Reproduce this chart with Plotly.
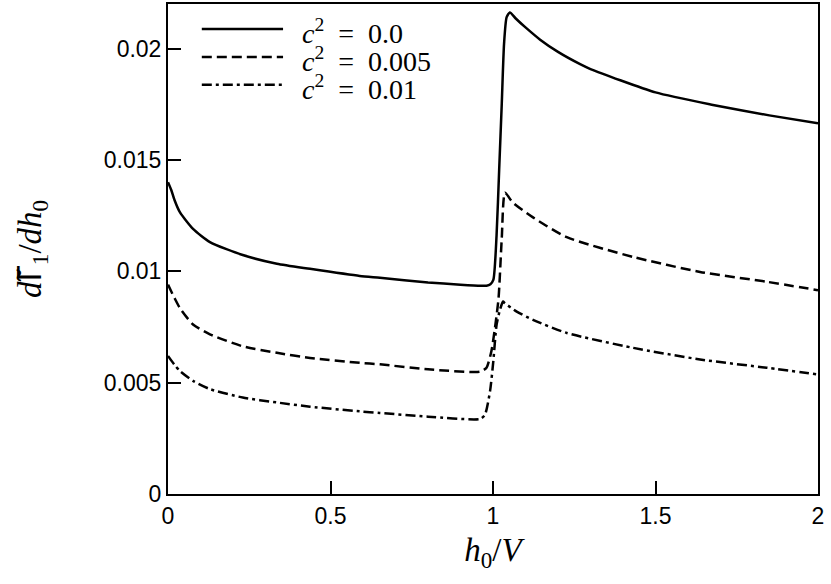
import plotly.graph_objects as go

# curve c^2 = 0.0
x_c0 = [0.0, 0.01, 0.02, 0.037, 0.077, 0.129, 0.23, 0.335, 0.437, 0.59, 0.652, 0.8, 0.9,
        0.963, 0.98, 0.992, 1.001, 1.011, 1.019, 1.027, 1.034, 1.042, 1.052, 1.07,
        1.1, 1.145, 1.2, 1.268, 1.3, 1.5, 1.677, 1.85, 2.0]
y_c0 = [0.0140, 0.01365, 0.0132, 0.01264, 0.0119, 0.01131, 0.01073, 0.01034, 0.01011,
        0.00979, 0.00971, 0.0095, 0.0094, 0.00935, 0.00935, 0.00942, 0.00961, 0.01162,
        0.01456, 0.01754, 0.02021, 0.02141, 0.02162, 0.02135, 0.02095, 0.0204, 0.01985,
        0.0193, 0.01908, 0.01803, 0.01747, 0.0170, 0.01664]

# curve c^2 = 0.005
x_c1 = [0.0, 0.02, 0.037, 0.077, 0.129, 0.23, 0.335, 0.437, 0.59, 0.652, 0.8, 0.96,
        0.98, 0.995, 1.006, 1.017, 1.027, 1.037, 1.06, 1.123, 1.227, 1.432, 1.637,
        1.842, 2.0]
y_c1 = [0.0094, 0.0088, 0.00834, 0.00761, 0.00717, 0.00663, 0.00634, 0.00611, 0.00589,
        0.00582, 0.0056, 0.00549, 0.00567, 0.00641, 0.00745, 0.00878, 0.0115, 0.01353,
        0.0131, 0.01242, 0.01153, 0.01064, 0.00997, 0.00953, 0.00915]

# curve c^2 = 0.01
x_c2 = [0.0, 0.02, 0.037, 0.077, 0.129, 0.23, 0.335, 0.437, 0.59, 0.652, 0.8, 0.96,
        0.975, 0.991, 1.001, 1.011, 1.022, 1.031, 1.037, 1.073, 1.123, 1.227, 1.432,
        1.637, 1.842, 2.0]
y_c2 = [0.0062, 0.0058, 0.00552, 0.00508, 0.00471, 0.00433, 0.00411, 0.00392, 0.00371,
        0.00364, 0.00347, 0.00337, 0.00355, 0.00463, 0.00597, 0.0076, 0.0083, 0.00864,
        0.00856, 0.00819, 0.00782, 0.00723, 0.00656, 0.00604, 0.00567, 0.00537]

names = ["<i>c</i><sup>2</sup>&nbsp;&nbsp;=&nbsp;&nbsp;0.0",
         "<i>c</i><sup>2</sup>&nbsp;&nbsp;=&nbsp;&nbsp;0.005",
         "<i>c</i><sup>2</sup>&nbsp;&nbsp;=&nbsp;&nbsp;0.01"]
dashes = ["solid", "10px,5px", "10px,4px,3px,4px"]

x_ticks = [0, 0.5, 1, 1.5, 2]
x_labels = ["0", "0.5", "1", "1.5", "2"]
y_ticks = [0, 0.005, 0.01, 0.015, 0.02]
y_labels = ["0", "0.005", "0.01", "0.015", "0.02"]

fig = go.Figure()
for xs, ys, nm, ds in zip([x_c0, x_c1, x_c2], [y_c0, y_c1, y_c2], names, dashes):
    fig.add_trace(go.Scatter(x=xs, y=ys, mode="lines", name=nm, showlegend=False,
                             line=dict(color="black", width=2.5, dash=ds,
                                       shape="spline", smoothing=0.6)))

# hand-made legend (tighter rows than plotly's own legend)
row_y = [0.949, 0.892, 0.835]
for nm, ds, ry in zip(names, dashes, row_y):
    fig.add_shape(type="line", xref="paper", yref="paper", x0=0.052, x1=0.177,
                  y0=ry, y1=ry, line=dict(color="black", width=2.5, dash=ds))
    fig.add_annotation(xref="paper", yref="paper", x=0.203, y=ry - 0.006,
                       xanchor="left", yanchor="middle", showarrow=False, text=nm,
                       font=dict(family="Liberation Serif, serif", size=28, color="black"))

axis_style = dict(showline=True, linecolor="black", linewidth=2, mirror=True,
                  ticks="inside", ticklen=13, tickwidth=1.5, tickcolor="black",
                  showgrid=False, zeroline=False,
                  tickfont=dict(family="Liberation Sans, Arial", size=23, color="black"))

y_title = ("<i>d</i><span style=\"font-family:'Noto Sans'\">\u0393\u0303</span>"
           "<sub>1</sub>/<i>dh</i><sub>0</sub>")

fig.update_xaxes(range=[0, 2], tickvals=x_ticks, ticktext=x_labels,
                 title=dict(text="<i>h</i><sub>0</sub>/<i>V</i>", standoff=10,
                            font=dict(family="Liberation Serif, serif", size=33, color="black")),
                 **axis_style)
fig.update_yaxes(range=[0, 0.022], tickvals=y_ticks, ticktext=y_labels,
                 title=dict(text=y_title, standoff=52,
                            font=dict(family="Liberation Serif, serif", size=33, color="black")),
                 **axis_style)

fig.update_layout(
    width=831, height=584,
    margin=dict(l=168, r=13, t=2, b=90),
    plot_bgcolor="white", paper_bgcolor="white",
)

fig.write_html("out.html", config={"displayModeBar": False},
               post_script="document.body.style.margin='0';")
